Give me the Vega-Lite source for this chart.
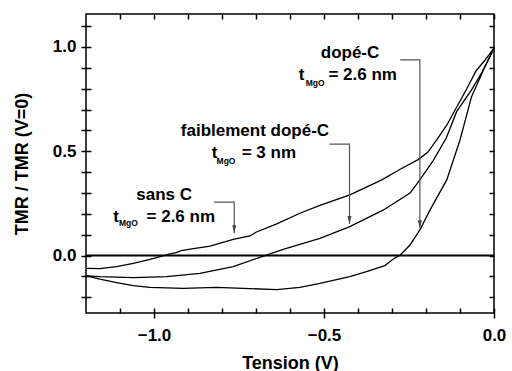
{
  "$schema": "https://vega.github.io/schema/vega-lite/v6.json",
  "width": 408,
  "height": 299,
  "autosize": {"type": "none"},
  "padding": {"left": 86, "top": 14, "right": 18, "bottom": 58},
  "background": "white",
  "config": {
    "view": {"stroke": "black", "strokeWidth": 1.5},
    "axis": {"grid": false, "ticks": true, "tickOpacity": 1, "tickColor": "black", "domain": false, "labelColor": "black", "titleColor": "black", "tickWidth": 1.5}
  },
  "datasets": {
    "curves": [
      {"s": "sans C", "v": -1.198, "r": -0.061}, {"s": "sans C", "v": -1.159, "r": -0.062}, {"s": "sans C", "v": -1.110, "r": -0.053},
      {"s": "sans C", "v": -1.061, "r": -0.037}, {"s": "sans C", "v": -1.012, "r": -0.018}, {"s": "sans C", "v": -0.982, "r": -0.005},
      {"s": "sans C", "v": -0.953, "r": 0.008}, {"s": "sans C", "v": -0.935, "r": 0.014}, {"s": "sans C", "v": -0.920, "r": 0.024},
      {"s": "sans C", "v": -0.884, "r": 0.034}, {"s": "sans C", "v": -0.835, "r": 0.046}, {"s": "sans C", "v": -0.767, "r": 0.078},
      {"s": "sans C", "v": -0.718, "r": 0.094}, {"s": "sans C", "v": -0.700, "r": 0.112}, {"s": "sans C", "v": -0.639, "r": 0.152},
      {"s": "sans C", "v": -0.571, "r": 0.203}, {"s": "sans C", "v": -0.512, "r": 0.241}, {"s": "sans C", "v": -0.424, "r": 0.291},
      {"s": "sans C", "v": -0.330, "r": 0.363}, {"s": "sans C", "v": -0.276, "r": 0.414}, {"s": "sans C", "v": -0.223, "r": 0.460},
      {"s": "sans C", "v": -0.195, "r": 0.495}, {"s": "sans C", "v": -0.169, "r": 0.554}, {"s": "sans C", "v": -0.139, "r": 0.625},
      {"s": "sans C", "v": -0.110, "r": 0.711}, {"s": "sans C", "v": -0.080, "r": 0.800}, {"s": "sans C", "v": -0.053, "r": 0.885},
      {"s": "sans C", "v": -0.025, "r": 0.940}, {"s": "sans C", "v": 0.0, "r": 0.994},
      {"s": "faiblement", "v": -1.198, "r": -0.097}, {"s": "faiblement", "v": -1.159, "r": -0.101}, {"s": "faiblement", "v": -1.061, "r": -0.105},
      {"s": "faiblement", "v": -0.963, "r": -0.101}, {"s": "faiblement", "v": -0.865, "r": -0.085}, {"s": "faiblement", "v": -0.767, "r": -0.053},
      {"s": "faiblement", "v": -0.678, "r": -0.002}, {"s": "faiblement", "v": -0.620, "r": 0.030}, {"s": "faiblement", "v": -0.512, "r": 0.083},
      {"s": "faiblement", "v": -0.424, "r": 0.139}, {"s": "faiblement", "v": -0.325, "r": 0.219}, {"s": "faiblement", "v": -0.247, "r": 0.300},
      {"s": "faiblement", "v": -0.218, "r": 0.363}, {"s": "faiblement", "v": -0.178, "r": 0.458}, {"s": "faiblement", "v": -0.140, "r": 0.565},
      {"s": "faiblement", "v": -0.110, "r": 0.690}, {"s": "faiblement", "v": -0.066, "r": 0.794}, {"s": "faiblement", "v": -0.035, "r": 0.880},
      {"s": "faiblement", "v": 0.0, "r": 0.994},
      {"s": "dope", "v": -1.198, "r": -0.097}, {"s": "dope", "v": -1.159, "r": -0.113}, {"s": "dope", "v": -1.110, "r": -0.129},
      {"s": "dope", "v": -1.061, "r": -0.144}, {"s": "dope", "v": -1.012, "r": -0.152}, {"s": "dope", "v": -0.914, "r": -0.157},
      {"s": "dope", "v": -0.816, "r": -0.152}, {"s": "dope", "v": -0.718, "r": -0.158}, {"s": "dope", "v": -0.639, "r": -0.163},
      {"s": "dope", "v": -0.571, "r": -0.152}, {"s": "dope", "v": -0.512, "r": -0.133}, {"s": "dope", "v": -0.424, "r": -0.101},
      {"s": "dope", "v": -0.375, "r": -0.077}, {"s": "dope", "v": -0.321, "r": -0.048}, {"s": "dope", "v": -0.296, "r": -0.016},
      {"s": "dope", "v": -0.276, "r": 0.003}, {"s": "dope", "v": -0.247, "r": 0.051}, {"s": "dope", "v": -0.218, "r": 0.123},
      {"s": "dope", "v": -0.188, "r": 0.219}, {"s": "dope", "v": -0.139, "r": 0.363}, {"s": "dope", "v": -0.100, "r": 0.554},
      {"s": "dope", "v": -0.066, "r": 0.762}, {"s": "dope", "v": -0.031, "r": 0.890}, {"s": "dope", "v": 0.0, "r": 0.994}
    ],
    "zero": [{"v": -1.2, "r": 0}, {"v": 0.0, "r": 0}],
    "arrows": [
      {"a": 1, "k": 1, "v": -0.276, "r": 0.938}, {"a": 1, "k": 2, "v": -0.218, "r": 0.938}, {"a": 1, "k": 3, "v": -0.218, "r": 0.131},
      {"a": 2, "k": 1, "v": -0.484, "r": 0.534}, {"a": 2, "k": 2, "v": -0.425, "r": 0.534}, {"a": 2, "k": 3, "v": -0.425, "r": 0.152},
      {"a": 3, "k": 1, "v": -0.823, "r": 0.256}, {"a": 3, "k": 2, "v": -0.764, "r": 0.256}, {"a": 3, "k": 3, "v": -0.764, "r": 0.107}
    ],
    "labels": [
      {"role": "head", "v": -0.4235, "r": 0.970, "t": "dopé-C"},
      {"role": "body", "v": -0.574, "r": 0.866, "t": "t"},
      {"role": "sub", "v": -0.554, "r": 0.829, "t": "MgO"},
      {"role": "body", "v": -0.487, "r": 0.866, "t": "= 2.6 nm"},
      {"role": "head", "v": -0.703, "r": 0.599, "t": "faiblement dopé-C"},
      {"role": "body", "v": -0.830, "r": 0.490, "t": "t"},
      {"role": "sub", "v": -0.816, "r": 0.455, "t": "MgO"},
      {"role": "body", "v": -0.742, "r": 0.490, "t": "= 3 nm"},
      {"role": "head", "v": -0.970, "r": 0.291, "t": "sans C"},
      {"role": "body", "v": -1.120, "r": 0.187, "t": "t"},
      {"role": "sub", "v": -1.103, "r": 0.155, "t": "MgO"},
      {"role": "body", "v": -1.022, "r": 0.187, "t": "= 2.6 nm"}
    ]
  },
  "resolve": {"axis": {"x": "independent", "y": "independent"}},
  "layer": [
    {
      "data": {"name": "curves"},
      "mark": {"type": "line", "color": "black", "strokeWidth": 1.3},
      "encoding": {
        "x": {"field": "v", "type": "quantitative", "scale": {"domain": [-1.2, 0], "nice": false, "zero": false},
          "axis": {"orient": "bottom", "values": [-1.0, -0.5, 0.0], "format": ".1f", "ticks": true, "tickSize": 5, "labelPadding": 9,
            "labelFont": "Liberation Sans", "labelFontWeight": "bold", "labelFontSize": 17, "labelFlush": false, "labelOverlap": false,
            "title": "Tension (V)", "titleFont": "Liberation Sans", "titleFontWeight": "bold", "titleFontSize": 18,
            "titleY": 55, "titleBaseline": "alphabetic"}},
        "y": {"field": "r", "type": "quantitative", "scale": {"domain": [-0.275, 1.158], "nice": false, "zero": false},
          "axis": {"orient": "left", "values": [-0.2, -0.1, 0.0, 0.1, 0.2, 0.3, 0.4, 0.5, 0.6, 0.7, 0.8, 0.9, 1.0, 1.1],
            "labelExpr": "abs(datum.value * 2 - round(datum.value * 2)) < 0.001 ? format(datum.value, '.1f') : ''",
            "ticks": true, "tickSize": 5, "labelPadding": 5, "labelFont": "Liberation Sans", "labelFontWeight": "bold", "labelFontSize": 17,
            "labelFlush": false, "labelOverlap": false,
            "title": "TMR / TMR (V=0)", "titleFont": "Liberation Sans", "titleFontWeight": "bold", "titleFontSize": 18,
            "titleAngle": 270, "titleX": -59, "titleBaseline": "alphabetic"}},
        "detail": {"field": "s"}
      }
    },
    {
      "data": {"name": "zero"},
      "mark": {"type": "line", "color": "black", "strokeWidth": 2},
      "encoding": {
        "x": {"field": "v", "type": "quantitative",
          "axis": {"orient": "bottom", "values": [-1.1, -1.0, -0.9, -0.8, -0.7, -0.6, -0.5, -0.4, -0.3, -0.2, -0.1, 0.0],
            "ticks": true, "tickSize": -5, "labels": false, "title": null}},
        "y": {"field": "r", "type": "quantitative",
          "axis": {"orient": "left", "values": [-0.2, -0.1, 0.0, 0.1, 0.2, 0.3, 0.4, 0.5, 0.6, 0.7, 0.8, 0.9, 1.0, 1.1],
            "ticks": true, "tickSize": -5, "labels": false, "title": null}}
      }
    },
    {
      "data": {"name": "arrows"},
      "mark": {"type": "line", "color": "#555555", "strokeWidth": 1.2},
      "encoding": {
        "x": {"field": "v", "type": "quantitative",
          "axis": {"orient": "top", "values": [-1.1, -1.0, -0.9, -0.8, -0.7, -0.6, -0.5, -0.4, -0.3, -0.2, -0.1, 0.0],
            "ticks": true, "tickSize": -5, "labels": false, "title": null}},
        "y": {"field": "r", "type": "quantitative",
          "axis": {"orient": "right", "values": [-0.2, -0.1, 0.0, 0.1, 0.2, 0.3, 0.4, 0.5, 0.6, 0.7, 0.8, 0.9, 1.0, 1.1],
            "ticks": true, "tickSize": -5, "labels": false, "title": null}},
        "detail": {"field": "a"},
        "order": {"field": "k"}
      }
    },
    {
      "data": {"name": "arrows"},
      "transform": [{"filter": "datum.k == 3"}],
      "mark": {"type": "point", "shape": "M-0.5,-1L0.5,-1L0,1Z", "size": 64, "filled": true, "color": "#444444", "opacity": 1, "yOffset": -4},
      "encoding": {
        "x": {"field": "v", "type": "quantitative", "axis": null},
        "y": {"field": "r", "type": "quantitative", "axis": null}
      }
    },
    {
      "data": {"name": "labels"},
      "transform": [{"filter": "datum.role == 'head'"}],
      "mark": {"type": "text", "align": "center", "baseline": "middle", "font": "Liberation Sans", "fontWeight": "bold", "fontSize": 17, "color": "black"},
      "encoding": {
        "x": {"field": "v", "type": "quantitative", "axis": null},
        "y": {"field": "r", "type": "quantitative", "axis": null},
        "text": {"field": "t"}
      }
    },
    {
      "data": {"name": "labels"},
      "transform": [{"filter": "datum.role == 'body'"}],
      "mark": {"type": "text", "align": "left", "baseline": "middle", "font": "Liberation Sans", "fontWeight": "bold", "fontSize": 17, "color": "black"},
      "encoding": {
        "x": {"field": "v", "type": "quantitative", "axis": null},
        "y": {"field": "r", "type": "quantitative", "axis": null},
        "text": {"field": "t"}
      }
    },
    {
      "data": {"name": "labels"},
      "transform": [{"filter": "datum.role == 'sub'"}],
      "mark": {"type": "text", "align": "left", "baseline": "middle", "font": "Liberation Sans", "fontWeight": "bold", "fontSize": 8.5, "color": "black"},
      "encoding": {
        "x": {"field": "v", "type": "quantitative", "axis": null},
        "y": {"field": "r", "type": "quantitative", "axis": null},
        "text": {"field": "t"}
      }
    }
  ]
}
